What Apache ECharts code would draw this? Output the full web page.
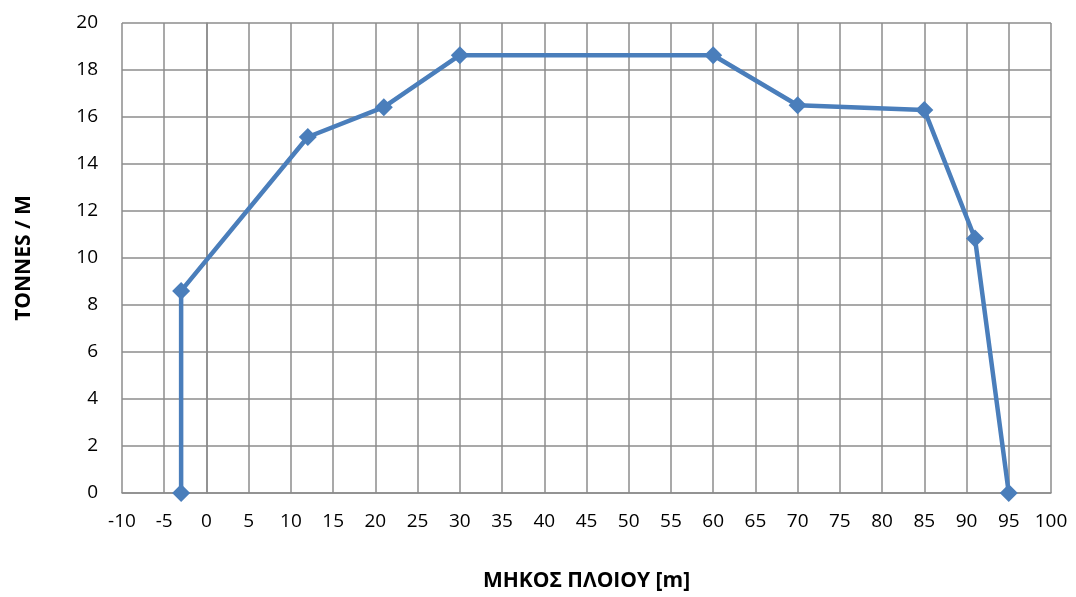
<!DOCTYPE html>
<html>
<head>
<meta charset="utf-8">
<script src="https://cdn.jsdelivr.net/npm/echarts@6/dist/echarts.min.js"></script>
<style>
  html, body { margin: 0; padding: 0; background: #fff; }
  #chart { width: 1076px; height: 597px; }
</style>
</head>
<body>
<div id="chart"></div>
<script>
// Ship length position [m] and load per metre [tonnes/m]
const positions = [-3, -3, 12, 21, 30, 60, 70, 85, 91, 95];
const loads     = [0, 8.6, 15.15, 16.42, 18.63, 18.63, 16.5, 16.3, 10.83, 0];

const xTitle = 'ΜΗΚΟΣ ΠΛΟΙΟΥ [m]';
const yTitle = 'TONNES / M';

const FONT = 'Open Sans';
const gridColor = '#8c8c8c';
const lineColor = '#4a7ebb';

const chart = echarts.init(document.getElementById('chart'));
chart.setOption({
  animation: false,
  grid: { left: 122, right: 25, top: 23, bottom: 102, containLabel: false },
  xAxis: {
    type: 'value',
    min: -10, max: 100, interval: 5,
    name: xTitle,
    nameLocation: 'middle',
    nameGap: 78,
    nameTextStyle: { fontFamily: FONT, fontSize: 21, fontWeight: 'bold', color: '#000' },
    axisLine: { show: true, lineStyle: { color: gridColor, width: 1.5 } },
    axisTick: { show: false },
    axisLabel: { fontFamily: FONT, fontSize: 19, color: '#000', margin: 19 },
    splitLine: { show: true, lineStyle: { color: gridColor, width: 1.5 } }
  },
  yAxis: {
    type: 'value',
    min: 0, max: 20, interval: 2,
    name: yTitle,
    nameLocation: 'middle',
    nameGap: 87,
    nameRotate: 90,
    nameTextStyle: { fontFamily: FONT, fontSize: 21, fontWeight: 'bold', color: '#000' },
    axisLine: { show: true, lineStyle: { color: gridColor, width: 1.5 } },
    axisTick: { show: false },
    axisLabel: { fontFamily: FONT, fontSize: 19, color: '#000', margin: 24 },
    splitLine: { show: true, lineStyle: { color: gridColor, width: 1.5 } }
  },
  series: [{
    type: 'line',
    data: positions.map((x, i) => [x, loads[i]]),
    symbol: 'diamond',
    symbolSize: 18,
    lineStyle: { color: lineColor, width: 4.5 },
    itemStyle: { color: lineColor },
    clip: false
  }]
});
</script>
</body>
</html>
